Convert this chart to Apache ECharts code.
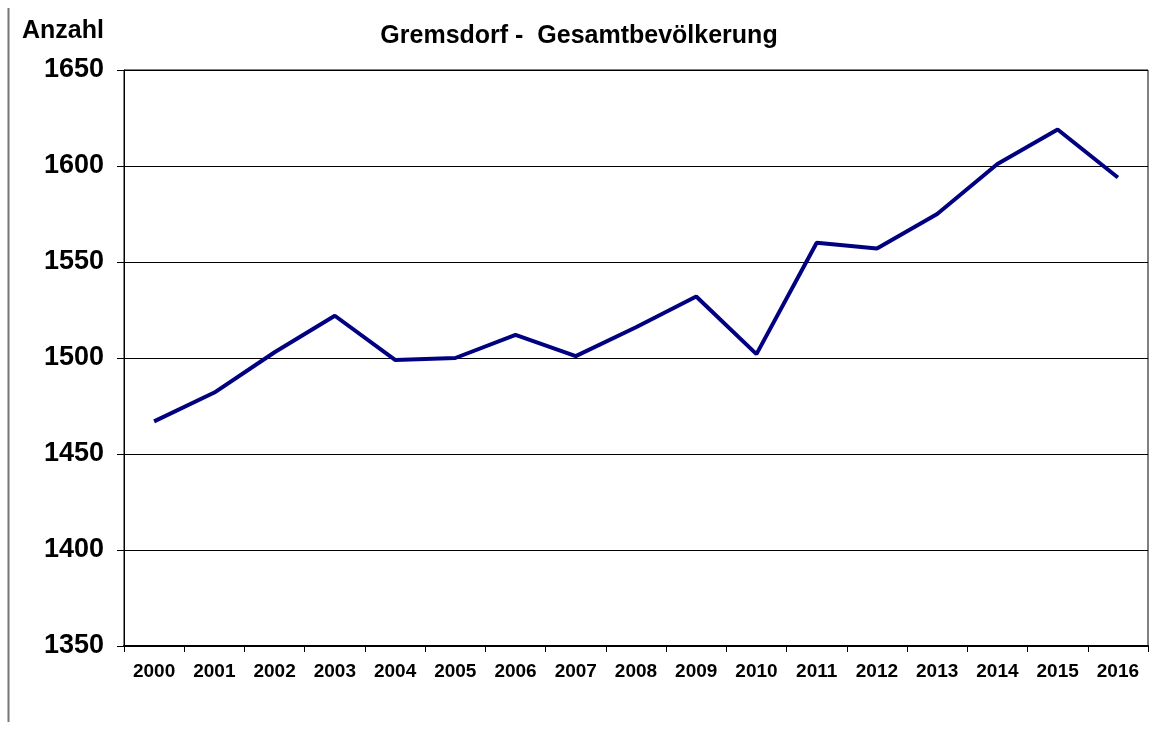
<!DOCTYPE html>
<html><head><meta charset="utf-8">
<script src="https://cdn.jsdelivr.net/npm/echarts@6/dist/echarts.min.js"></script>
<style>html,body{margin:0;padding:0;background:#fff}#c{width:1168px;height:731px}</style>
</head><body><div id="c"></div>
<script>
const years = ['2000','2001','2002','2003','2004','2005','2006','2007','2008','2009','2010','2011','2012','2013','2014','2015','2016'];
const population = [1467,1482,1503,1522,1499,1500,1512,1501,1516,1532,1502,1560,1557,1575,1601,1619,1594];
const titleText = 'Gremsdorf -  Gesamtbevölkerung';
const yAxisName = 'Anzahl';
const yMin = 1350, yMax = 1650, yStep = 50;

const chart = echarts.init(document.getElementById('c'), null, {renderer:'canvas'});
const font = 'Liberation Sans, Arial, sans-serif';
chart.setOption({
  animation:false,
  backgroundColor:'#fff',
  title:{text:titleText,left:574,top:19,textAlign:'center',
    textStyle:{fontFamily:font,fontWeight:'bold',fontSize:25,color:'#000'}},
  graphic:[
    {type:'line',shape:{x1:8.5,y1:8,x2:8.5,y2:722},style:{stroke:'#777',lineWidth:2}},
    {type:'text',left:22,top:19,style:{text:yAxisName,font:'bold 25px '+font,fill:'#000'}}
  ],
  grid:{left:124,right:20,top:70,bottom:85,show:true,borderColor:'#000',borderWidth:1,containLabel:false},
  xAxis:{type:'category',data:years,boundaryGap:true,
    axisLine:{lineStyle:{color:'#000',width:2}},
    axisTick:{show:true,alignWithLabel:false,length:6,lineStyle:{color:'#000'}},
    axisLabel:{color:'#000',fontFamily:font,fontWeight:'bold',fontSize:19,margin:16,interval:0}},
  yAxis:{type:'value',min:yMin,max:yMax,interval:yStep,
    axisLine:{show:true,lineStyle:{color:'#000',width:1}},
    axisTick:{show:true,length:7,lineStyle:{color:'#000'}},
    splitLine:{show:true,lineStyle:{color:'#000',width:1}},
    axisLabel:{color:'#000',fontFamily:font,fontWeight:'bold',fontSize:27,margin:20,
      formatter:function(v){return String(v);}}},
  series:[{type:'line',data:population,symbol:'none',
    lineStyle:{color:'#000080',width:4}}]
});
</script></body></html>
